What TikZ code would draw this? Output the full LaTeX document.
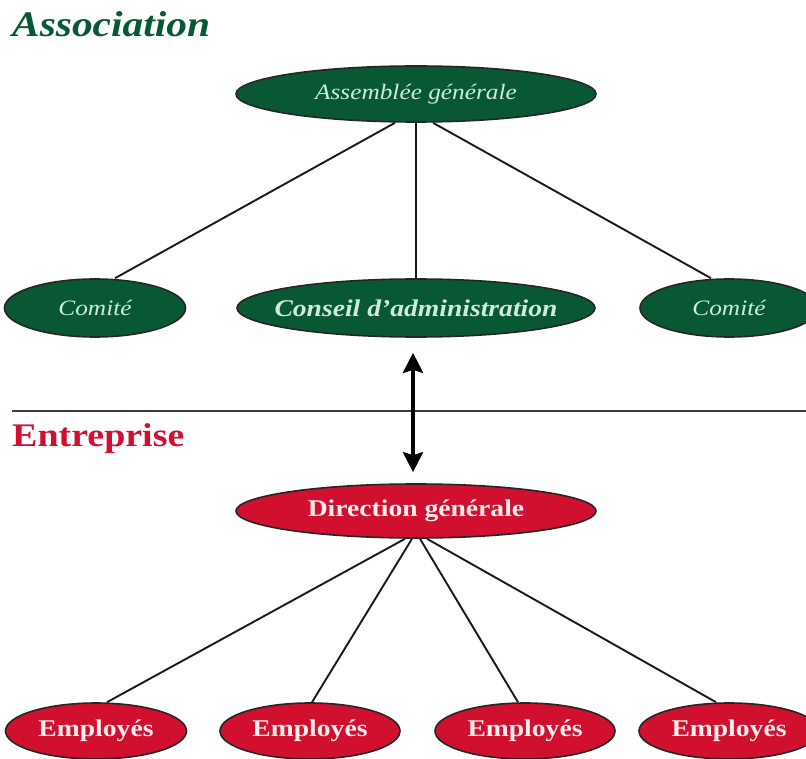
\documentclass[tikz,border=0pt]{standalone}
\usepackage{fontspec}
\setmainfont{Liberation Serif}[FakeStretch=1.15]
\usepackage{tikz}
\usetikzlibrary{shapes.geometric}
\usetikzlibrary{arrows.meta}
\definecolor{assocgreen}{RGB}{8,88,52}
\definecolor{assoctext}{RGB}{205,235,215}
\definecolor{entred}{RGB}{208,16,46}
\definecolor{enttext}{RGB}{255,236,236}
\tikzset{
	greenell/.style={ellipse,draw=black!85,line width=1.6pt,fill=assocgreen,text=assoctext,inner sep=0pt},
	redell/.style={ellipse,draw=black!85,line width=1.6pt,fill=entred,text=enttext,inner sep=0pt,font=\fontsize{24}{28}\selectfont\bfseries},
	link/.style={black!90,line width=1.9pt},
}

\begin{document}
\begin{tikzpicture}[x=1pt,y=-1pt]
			\useasboundingbox (0,0) rectangle (806,759);
			%titles
			\node[anchor=base west,inner sep=0pt,text=assocgreen,font=\fontsize{36}{40}\selectfont\bfseries\itshape] (assoc) at (12,37) {Association};
			\node[anchor=base west,inner sep=0pt,text=entred,font=\fontsize{33}{38}\selectfont\bfseries] (entr) at (12,446) {Entreprise};
			%association ellipses
			\node[greenell,minimum width=360pt,minimum height=56pt,font=\fontsize{22}{26}\selectfont\itshape] (asm) at (416,94) {Assemblée générale};
			\node[greenell,minimum width=181pt,minimum height=58pt,font=\fontsize{22}{26}\selectfont\itshape] (comL) at (95,308) {Comité};
			\node[greenell,minimum width=358pt,minimum height=58pt,inner xsep=-16pt,font=\fontsize{24}{28}\selectfont\bfseries\itshape] (cons) at (416,308) {Conseil d'administration};
			\node[greenell,minimum width=178pt,minimum height=58pt,font=\fontsize{22}{26}\selectfont\itshape] (comR) at (729,308) {Comité};
			\draw[link] ([xshift=-21pt]asm.south)--([xshift=20pt]comL.north);
			\draw[link] (asm.south)--(cons.north);
			\draw[link] ([xshift=17pt]asm.south)--([xshift=-18pt]comR.north);
			%separation line
			\coordinate (sepL) at (12,411);
			\coordinate (sepR) at (806,411);
			\draw[black!75,line width=2pt] (sepL)--(sepR);
			%entreprise ellipses
			\node[redell,minimum width=360pt,minimum height=54pt] (dir) at (416,511) {Direction générale};
			\node[redell,minimum width=181pt,minimum height=56pt] (empA) at (96,731) {Employés};
			\node[redell,minimum width=180pt,minimum height=56pt] (empB) at (310,731) {Employés};
			\node[redell,minimum width=180pt,minimum height=56pt] (empC) at (525,731) {Employés};
			\node[redell,minimum width=180pt,minimum height=56pt] (empD) at (729,731) {Employés};
			\draw[link] ([xshift=-11pt]dir.south)--([xshift=11pt]empA.north);
			\draw[link] ([xshift=-4pt]dir.south)--([xshift=2pt]empB.north);
			\draw[link] ([xshift=4pt]dir.south)--([xshift=-7pt]empC.north);
			\draw[link] ([xshift=11pt]dir.south)--([xshift=-13pt]empD.north);
			%double arrow between the two parts
			\draw[black,line width=4pt,{Stealth[length=20pt,width=20pt,inset=3pt]}-{Stealth[length=20pt,width=20pt,inset=3pt]},shorten <=15pt,shorten >=11pt] ([xshift=-3pt]cons.south)--([xshift=-3pt]dir.north);
		\end{tikzpicture}
\end{document}
